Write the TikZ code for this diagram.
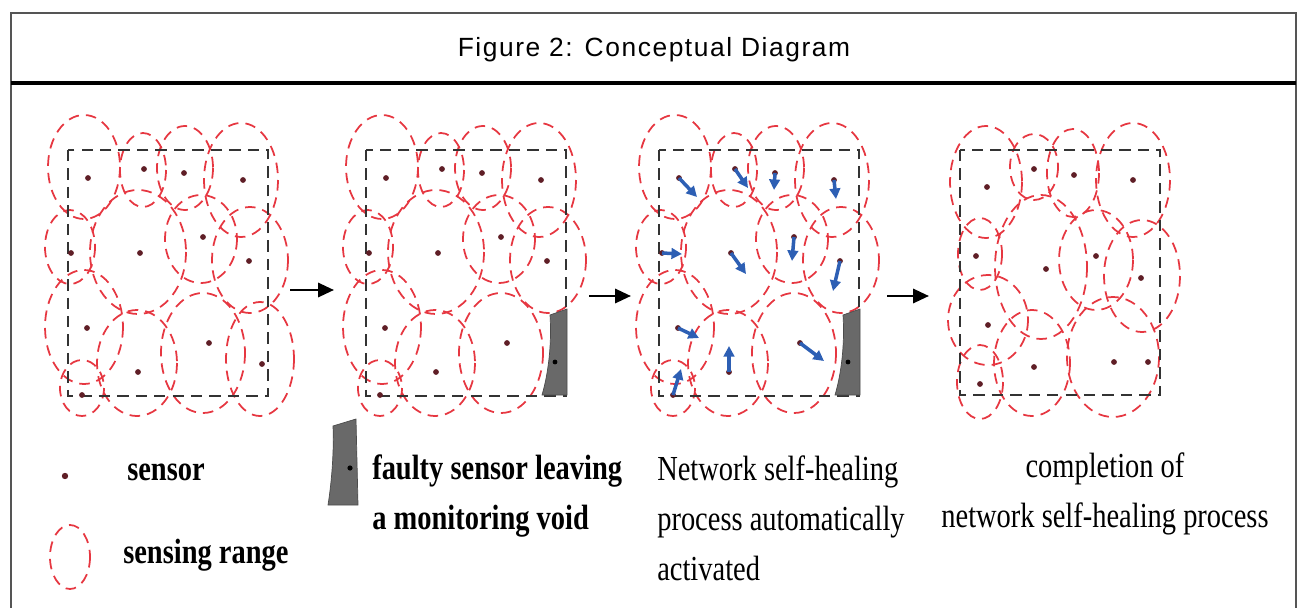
\documentclass[tikz,border=0pt]{standalone}
\usepackage{fontspec}
\setmainfont{Liberation Serif}
\newfontfamily\titlefont[LetterSpace=6]{Liberation Sans}
\usetikzlibrary{arrows.meta}

\definecolor{rangered}{RGB}{230,55,65}
\definecolor{dotbrown}{RGB}{95,30,38}
\definecolor{moveblue}{RGB}{45,95,180}
\definecolor{voidgray}{RGB}{105,105,105}
\definecolor{framegray}{RGB}{85,85,85}

\tikzset{
	rangeoval/.style={draw=rangered, line width=1pt, dash pattern=on 6pt off 4pt},
	areabox/.style={draw=black!80, line width=1.4pt, dash pattern=on 6.5pt off 4pt},
	steparrow/.style={line width=1.5pt, -{Triangle[length=9pt,width=8pt]}},
	shiftarrow/.style={draw=moveblue, line width=2pt, -{Triangle[length=6pt,width=6pt]}},
	legtxt/.style={font=\fontsize{20}{28.5}\selectfont\bfseries, xscale=0.81, anchor=west, align=left, inner sep=0pt},
	captxt/.style={font=\fontsize{20}{28.5}\selectfont, xscale=0.81, inner sep=0pt},
	titletxt/.style={font=\titlefont\fontsize{15}{18}\selectfont}
}

\begin{document}
\begin{tikzpicture}[x=0.02cm,y=-0.02cm]
		\def \r {2.9}
		\useasboundingbox (0,0) rectangle (1298,608);
		% frame and title
		\draw[framegray, line width=1.3pt] (11,608) -- (11,13) -- (1296,13) -- (1296,608);
		\draw[line width=1.8pt] (11,83) -- (1296,83);
		\node[titletxt] (title) at (654,50) {Figure 2: Conceptual Diagram};

		% sensing ranges shared by the first three panels
		\def \ranges {
			\draw[rangeoval] (84,167) ellipse (36 and 52);
			\draw[rangeoval] (143,170) ellipse (23 and 37);
			\draw[rangeoval] (185,168) ellipse (28 and 42);
			\draw[rangeoval] (241,180) ellipse (37 and 57);
			\draw[rangeoval] (70,247) ellipse (25 and 37);
			\draw[rangeoval] (138,252) ellipse (48 and 62);
			\draw[rangeoval] (201,239) ellipse (36 and 44);
			\draw[rangeoval] (250,260) ellipse (38 and 53);
			\draw[rangeoval] (84,327) ellipse (39 and 57);
			\draw[rangeoval] (203,353) ellipse (42 and 60);
			\draw[rangeoval] (137,363) ellipse (40 and 53);
			\draw[rangeoval] (82,388) ellipse (22 and 28);
		}
		\def \dots {
			\fill[dotbrown] (88,178) circle (\r);
			\fill[dotbrown] (144,169) circle (\r);
			\fill[dotbrown] (184,173) circle (\r);
			\fill[dotbrown] (243,180) circle (\r);
			\fill[dotbrown] (71,253) circle (\r);
			\fill[dotbrown] (140,253) circle (\r);
			\fill[dotbrown] (203,237) circle (\r);
			\fill[dotbrown] (249,261) circle (\r);
			\fill[dotbrown] (87,328) circle (\r);
			\fill[dotbrown] (209,343) circle (\r);
			\fill[dotbrown] (138,372) circle (\r);
			\fill[dotbrown] (82,395) circle (\r);
		}
		\def \void {
			\filldraw[fill=voidgray, draw=black!70, line width=0.4pt] (252,315) -- (269,309) -- (269,395) -- (244,395) .. controls (250,375) and (254,345) .. (252,315) -- cycle;
			\fill[black] (257,362) circle (2.4);
		}

		% panel 1: full coverage
		\begin{scope}
			\ranges
			\draw[rangeoval] (260,359) ellipse (34 and 57);
			\draw[areabox] (68,150) rectangle (268,396);
			\dots
			\fill[dotbrown] (262,364) circle (\r);
		\end{scope}

		% panel 2: faulty sensor
		\begin{scope}[shift={(298,0)}]
			\ranges
			\draw[areabox] (68,150) rectangle (268,396);
			\void
			\dots
		\end{scope}

		% panel 3: sensors move
		\begin{scope}[shift={(591,0)}]
			\ranges
			\draw[areabox] (68,150) rectangle (268,396);
			\void
			\dots
			\coordinate (a1) at (88,178);  \coordinate (b1) at (106,197);
			\coordinate (a2) at (144,169); \coordinate (b2) at (157,188);
			\coordinate (a3) at (184,173); \coordinate (b3) at (183,190);
			\coordinate (a4) at (243,180); \coordinate (b4) at (245,199);
			\coordinate (a5) at (71,253);  \coordinate (b5) at (91,254);
			\coordinate (a6) at (140,253); \coordinate (b6) at (155,274);
			\coordinate (a7) at (203,237); \coordinate (b7) at (201,261);
			\coordinate (a8) at (249,261); \coordinate (b8) at (242,291);
			\coordinate (a9) at (87,328);  \coordinate (b9) at (108,338);
			\coordinate (a10) at (209,343); \coordinate (b10) at (233,361);
			\coordinate (a11) at (138,372); \coordinate (b11) at (138,346);
			\coordinate (a12) at (82,395);  \coordinate (b12) at (90,369);
			\draw[shiftarrow] (a1) -- (b1);
			\draw[shiftarrow] (a2) -- (b2);
			\draw[shiftarrow] (a3) -- (b3);
			\draw[shiftarrow] (a4) -- (b4);
			\draw[shiftarrow] (a5) -- (b5);
			\draw[shiftarrow] (a6) -- (b6);
			\draw[shiftarrow] (a7) -- (b7);
			\draw[shiftarrow] (a8) -- (b8);
			\draw[shiftarrow] (a9) -- (b9);
			\draw[shiftarrow] (a10) -- (b10);
			\draw[shiftarrow] (a11) -- (b11);
			\draw[shiftarrow] (a12) -- (b12);
		\end{scope}

		% panel 4: healed network
		\begin{scope}[shift={(892,0)}]
			\draw[rangeoval] (94,182) ellipse (36 and 56);
			\draw[rangeoval] (142,167) ellipse (24 and 33);
			\draw[rangeoval] (181,173) ellipse (26 and 44);
			\draw[rangeoval] (241,180) ellipse (37 and 57);
			\draw[rangeoval] (88,254) ellipse (22 and 36);
			\draw[rangeoval] (149,267) ellipse (46 and 72);
			\draw[rangeoval] (204,260) ellipse (37 and 50);
			\draw[rangeoval] (250,276) ellipse (38 and 56);
			\draw[rangeoval] (96,320) ellipse (40 and 45);
			\draw[rangeoval] (140,363) ellipse (38 and 53);
			\draw[rangeoval] (221,357) ellipse (46 and 60);
			\draw[rangeoval] (88,382) ellipse (23 and 37);
			\draw[areabox] (68,150) rectangle (268,395);
			\fill[dotbrown] (95,187) circle (\r);
			\fill[dotbrown] (142,169) circle (\r);
			\fill[dotbrown] (182,175) circle (\r);
			\fill[dotbrown] (241,180) circle (\r);
			\fill[dotbrown] (84,256) circle (\r);
			\fill[dotbrown] (154,269) circle (\r);
			\fill[dotbrown] (204,256) circle (\r);
			\fill[dotbrown] (249,278) circle (\r);
			\fill[dotbrown] (96,325) circle (\r);
			\fill[dotbrown] (222,362) circle (\r);
			\fill[dotbrown] (256,362) circle (\r);
			\fill[dotbrown] (142,367) circle (\r);
			\fill[dotbrown] (88,384) circle (\r);
		\end{scope}

		% arrows between panels
		\coordinate (p1) at (290,290); \coordinate (p2) at (334,290);
		\coordinate (p3) at (589,296); \coordinate (p4) at (631,296);
		\coordinate (p5) at (887,296); \coordinate (p6) at (929,296);
		\draw[steparrow] (p1) -- (p2);
		\draw[steparrow] (p3) -- (p4);
		\draw[steparrow] (p5) -- (p6);

		% legend
		\fill[dotbrown] (65,476) circle (3.2);
		\draw[rangeoval] (70,557) ellipse (20 and 32);
		\filldraw[fill=voidgray, draw=black!70, line width=0.4pt] (333,426) -- (356,419) -- (358,505) -- (328,505) .. controls (332,480) and (334,450) .. (333,426) -- cycle;
		\fill[black] (350,468) circle (2.6);
		\node[legtxt] (sensor) at (127,472) {sensor};
		\node[legtxt] (range) at (123,555) {sensing range};
		\node[legtxt] (faulty) at (372,496) {faulty sensor leaving\\a monitoring void};
		\node[captxt, anchor=west, align=left] (healing) at (657,518) {Network self-healing\\process automatically\\activated};
		\node[captxt, align=center] (done) at (1105,494) {completion of\\network self-healing process};
\end{tikzpicture}
\end{document}
